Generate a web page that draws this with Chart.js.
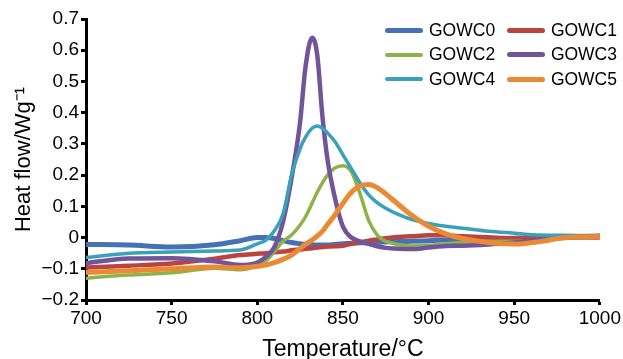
<!DOCTYPE html>
<html>
<head>
<meta charset="utf-8">
<script src="https://cdn.jsdelivr.net/npm/chart.js@4.4.1/dist/chart.umd.min.js"></script>
<style>
    html, body { margin: 0; padding: 0; background: #fff; }
    #wrap { position: relative; width: 623px; height: 359px; }
    #legend {
        position: absolute; left: 385px; top: 18px;
        display: grid; grid-template-columns: 122px 110px;
        font-family: "Liberation Sans", Arial, sans-serif; font-size: 17.5px; color: #000;
    }
    .item { display: flex; align-items: center; height: 24.5px; }
    .swatch { width: 38px; border-radius: 3px; margin-right: 6px; }
</style>
</head>
<body>
<div id="wrap">
    <canvas id="dscChart" width="623" height="359"></canvas>
    <div id="legend"></div>
</div>
<script>
// Temperatures (°C) the curves are read at
const temps = [700, 725, 750, 775, 790, 800, 805, 810, 815, 820, 825, 828, 832, 835, 838, 841, 845,
    850, 855, 860, 865, 870, 875, 880, 890, 900, 910, 920, 935, 950, 965, 980, 1000];

// Heat flow (W/g) per sample
const gowc0 = [-0.022, -0.024, -0.03, -0.023, -0.01, 0.0, 0.0, -0.003, -0.01, -0.016, -0.02, -0.022, -0.023, -0.024, -0.024, -0.024, -0.022,
    -0.02, -0.018, -0.017, -0.016, -0.015, -0.014, -0.013, -0.012, -0.01, -0.008, -0.006, -0.004, -0.002, 0.0, 0.003, 0.005];
const gowc1 = [-0.096, -0.09, -0.083, -0.068, -0.056, -0.052, -0.05, -0.047, -0.045, -0.041, -0.038, -0.036, -0.034, -0.032, -0.03, -0.029, -0.028,
    -0.026, -0.02, -0.015, -0.01, -0.006, -0.002, 0.001, 0.004, 0.007, 0.007, 0.004, 0.001, -0.002, -0.001, 0.0, 0.0];
const gowc2 = [-0.13, -0.12, -0.113, -0.098, -0.103, -0.09, -0.075, -0.045, -0.012, 0.008, 0.04, 0.065, 0.11, 0.145, 0.175, 0.2, 0.222,
    0.23, 0.21, 0.14, 0.055, 0.008, -0.012, -0.02, -0.027, -0.025, -0.02, -0.015, -0.012, -0.012, -0.008, -0.003, 0.002];
const gowc3 = [-0.082, -0.067, -0.066, -0.076, -0.088, -0.08, -0.062, -0.03, 0.05, 0.19, 0.37, 0.54, 0.64, 0.585, 0.39, 0.25, 0.135,
    0.035, 0.0, -0.013, -0.02, -0.028, -0.033, -0.035, -0.037, -0.032, -0.027, -0.026, -0.022, -0.016, -0.006, 0.0, 0.005];
const gowc4 = [-0.064, -0.05, -0.046, -0.043, -0.04, -0.02, -0.008, 0.022, 0.075, 0.2, 0.285, 0.32, 0.35, 0.357, 0.35, 0.335, 0.31,
    0.265, 0.22, 0.175, 0.137, 0.112, 0.094, 0.08, 0.058, 0.045, 0.036, 0.03, 0.02, 0.014, 0.008, 0.007, 0.002];
const gowc5 = [-0.112, -0.106, -0.1, -0.094, -0.097, -0.092, -0.088, -0.08, -0.07, -0.056, -0.035, -0.022, -0.008, 0.005, 0.02, 0.042, 0.07,
    0.11, 0.145, 0.165, 0.17, 0.16, 0.14, 0.117, 0.072, 0.036, 0.012, -0.003, -0.016, -0.021, -0.013, 0.0, 0.003];

const seriesLabels = ['GOWC0', 'GOWC1', 'GOWC2', 'GOWC3', 'GOWC4', 'GOWC5'];
const seriesValues = [gowc0, gowc1, gowc2, gowc3, gowc4, gowc5];

// Axis ticks
const xTicks = { min: 700, max: 1000, step: 50 };
const yTicks = { min: -0.2, max: 0.7, step: 0.1 };

const colors = ['#4472b4', '#bb4441', '#8db24a', '#71559b', '#3aa0bb', '#eb8a34'];
const widths = [5, 4.5, 3.5, 4.5, 3.5, 5];

Chart.defaults.font.family = '"Liberation Sans", Arial, sans-serif';
Chart.defaults.color = '#000';

const datasets = seriesValues.map((vals, i) => ({
    label: seriesLabels[i],
    data: temps.map((t, j) => ({ x: t, y: vals[j] })),
    borderColor: colors[i],
    backgroundColor: colors[i],
    borderWidth: widths[i],
    borderCapStyle: 'round',
    borderJoinStyle: 'round',
    pointRadius: 0,
    cubicInterpolationMode: 'monotone',
    order: seriesLabels.length - i
}));

const ctx = document.getElementById('dscChart').getContext('2d');
new Chart(ctx, {
    type: 'line',
    data: { datasets },
    options: {
        responsive: false,
        animation: false,
        devicePixelRatio: 1,
        layout: { padding: { top: 19, right: 20, left: 0, bottom: 0 } },
        plugins: { legend: { display: false }, tooltip: { enabled: false } },
        scales: {
            x: {
                type: 'linear',
                min: xTicks.min,
                max: xTicks.max,
                ticks: {
                    stepSize: xTicks.step,
                    font: { size: 19 },
                    color: '#000',
                    padding: 2,
                    maxRotation: 0,
                    callback: (v) => String(v)
                },
                grid: { drawOnChartArea: false, drawTicks: true, tickLength: 5, tickWidth: 3, tickColor: '#000' },
                border: { color: '#000', width: 3 },
                title: { display: true, text: 'Temperature/°C', font: { size: 23, lineHeight: 1 }, color: '#000', padding: { top: 0, bottom: -2 } },
                afterFit: (s) => { s.height = 59; }
            },
            y: {
                min: yTicks.min,
                max: yTicks.max,
                ticks: {
                    stepSize: yTicks.step,
                    font: { size: 19 },
                    color: '#000',
                    padding: 2,
                    callback: (v) => {
                        const r = Math.round(v * 10) / 10;
                        return r === 0 ? '0' : String(r).replace('-', '\u2212');
                    }
                },
                grid: { drawOnChartArea: false, drawTicks: true, tickLength: 5, tickWidth: 3, tickColor: '#000' },
                border: { color: '#000', width: 3 },
                title: { display: true, text: 'Heat flow/Wg\u207B\u00B9', font: { size: 22, lineHeight: 1 }, color: '#000', padding: { top: 13, bottom: 0 } },
                afterFit: (s) => { s.width = 86; }
            }
        }
    }
});

// Legend, two columns like the original
const legend = document.getElementById('legend');
legend.innerHTML = seriesLabels.map((name, i) => `
    <div class="item">
        <span class="swatch" style="height:${Math.round(widths[i])}px;background:${colors[i]}"></span>
        <span>${name}</span>
    </div>
`).join('');
</script>
</body>
</html>
